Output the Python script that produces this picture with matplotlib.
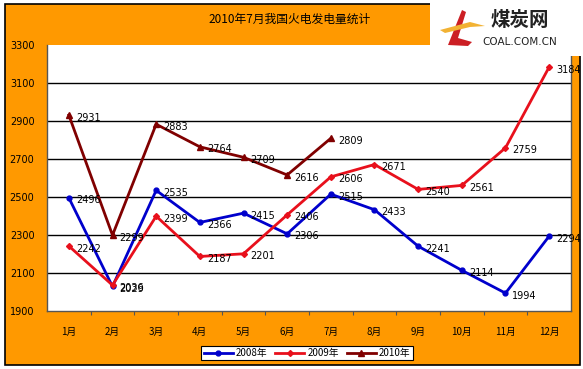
import matplotlib
matplotlib.use("Agg")
import matplotlib.pyplot as plt
from matplotlib.patches import Rectangle, Polygon
from matplotlib.lines import Line2D

plt.rcParams['font.family'] = ['Noto Sans CJK SC', 'DejaVu Sans']

months = ['1月', '2月', '3月', '4月', '5月', '6月', '7月', '8月', '9月', '10月', '11月', '12月']
s2008 = [2496, 2029, 2535, 2366, 2415, 2306, 2515, 2433, 2241, 2114, 1994, 2294]
s2009 = [2242, 2036, 2399, 2187, 2201, 2406, 2606, 2671, 2540, 2561, 2759, 3184]
s2010 = [2931, 2299, 2883, 2764, 2709, 2616, 2809]
series_names = ['2008年', '2009年', '2010年']
yticks = [1900, 2100, 2300, 2500, 2700, 2900, 3100, 3300]
title = '2010年7月我国火电发电量统计'

orange = '#FF9900'
fig = plt.figure(figsize=(5.83, 3.69), dpi=100)
fig.patch.set_facecolor('white')

W, H = 583, 369
def fx(x): return x / W
def fy(y): return 1 - y / H

# orange background with black border
bg = Rectangle((fx(5), fy(365)), fx(580) - fx(5), fy(4) - fy(365), transform=fig.transFigure,
               facecolor=orange, edgecolor='black', linewidth=1.2, zorder=-10)
fig.patches.append(bg)

ax = fig.add_axes([fx(47), fy(311), fx(571) - fx(47), fy(45) - fy(311)])
ax.set_zorder(1)
ax.set_facecolor('white')
x = list(range(len(months)))

ax.plot(x, s2008, color='#0000CC', lw=2, marker='o', ms=3.5, zorder=3)
ax.plot(x, s2009, color='#E8101C', lw=2, marker='D', ms=3, zorder=3)
ax.plot(list(range(len(s2010))), s2010, color='#800000', lw=2, marker='^', ms=4, zorder=4)

for data in (s2008, s2009, s2010):
    for i, v in enumerate(data):
        ax.annotate(str(v), (i, v), xytext=(5, -4), textcoords='offset points',
                    fontsize=7, family='DejaVu Sans', color='black', zorder=5)

ax.set_xlim(-0.5, 11.5)
ax.set_ylim(1900, 3300)
ax.set_yticks(yticks)
ax.set_yticklabels([str(t) for t in yticks], fontsize=7, family='DejaVu Sans')
for t in yticks[1:-1]:
    ax.axhline(t, color='black', lw=1, zorder=1)
ax.tick_params(axis='y', length=0, pad=9)

ax.set_xticks([i + 0.5 for i in range(11)])
ax.set_xticklabels([])
ax.tick_params(axis='x', length=3, direction='out', color='#555555')
for i, m in enumerate(months):
    ax.text(i, -0.06, m, transform=ax.get_xaxis_transform(), ha='center', va='top', fontsize=7)

for side in ['left', 'bottom', 'right']:
    ax.spines[side].set_color('#555555')
    ax.spines[side].set_linewidth(1)
ax.spines['top'].set_visible(False)

fig.text(fx(290), fy(19), title, ha='center', va='center', fontsize=8.5)

# legend
handles = [Line2D([], [], color='#0000CC', lw=2, marker='o', ms=3.5),
           Line2D([], [], color='#E8101C', lw=2, marker='D', ms=3),
           Line2D([], [], color='#800000', lw=2, marker='^', ms=4)]
leg = fig.legend(handles, series_names, loc='center', bbox_to_anchor=(fx(307), fy(353)),
                 ncol=3, fontsize=7, frameon=True, fancybox=False, edgecolor='black',
                 framealpha=1, handlelength=3.0, handletextpad=0.3, columnspacing=0.8,
                 borderpad=0.25)
leg.get_frame().set_linewidth(0.8)

# logo
logo = Rectangle((fx(430), fy(56)), fx(583) - fx(430), fy(0) - fy(56), transform=fig.transFigure,
                 facecolor='white', edgecolor='none', zorder=10)
fig.patches.append(logo)
red_shape = Polygon([(fx(448), fy(45)), (fx(462), fy(10)), (fx(466), fy(12)), (fx(458), fy(38)),
                     (fx(472), fy(42)), (fx(468), fy(46))], closed=True, transform=fig.transFigure,
                    facecolor='#CC1F24', edgecolor='none', zorder=11)
fig.patches.append(red_shape)
swoosh = Polygon([(fx(440), fy(30)), (fx(470), fy(22)), (fx(485), fy(26)), (fx(470), fy(27)),
                  (fx(445), fy(33))], closed=True, transform=fig.transFigure,
                 facecolor='#F2B233', edgecolor='none', zorder=12)
fig.patches.append(swoosh)
fig.text(fx(520), fy(20), '煤炭网', ha='center', va='center', fontsize=14, fontweight='bold',
         color='#222222', zorder=13)
fig.text(fx(520), fy(42), 'COAL.COM.CN', ha='center', va='center', fontsize=7.5,
         color='#222222', family='DejaVu Sans', zorder=13)

fig.savefig('out.png', dpi=100, facecolor='white')
